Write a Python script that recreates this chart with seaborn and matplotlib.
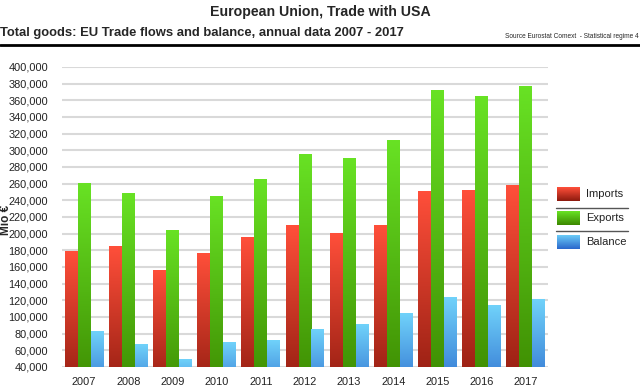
import numpy as np
import pandas as pd
import matplotlib
matplotlib.use("Agg")
import matplotlib.pyplot as plt
import seaborn as sns
from matplotlib.colors import LinearSegmentedColormap
from matplotlib.lines import Line2D
from matplotlib.ticker import FuncFormatter

years = ["2007", "2008", "2009", "2010", "2011", "2012", "2013", "2014", "2015", "2016", "2017"]
imports = [178600, 184100, 156000, 175700, 194900, 210200, 200200, 210200, 250400, 251600, 257200]
exports = [260000, 248400, 204200, 244300, 264800, 294600, 290100, 311800, 371700, 364500, 376100]
balance = [82500, 66500, 49000, 70000, 71500, 85500, 91500, 103600, 123000, 114000, 120500]
series = ["Imports", "Exports", "Balance"]
yticks = list(range(40000, 400001, 20000))
YMIN, YMAX = 40000, 400000

sns.set_theme(style="white")
plt.rcParams['font.family'] = ['Liberation Sans', 'DejaVu Sans']

df = pd.DataFrame({
    "year": years * 3,
    "value": imports + exports + balance,
    "series": [s for s in series for _ in years],
})

grad = {
    "Imports": ("#ff4f3a", "#8c1a0e"),
    "Exports": ("#68e224", "#3c8800"),
    "Balance": ("#70d2fa", "#2a68cc"),
}
palette = {k: v[0] for k, v in grad.items()}

fig = plt.figure(figsize=(6.4, 3.91), dpi=100)
ax = fig.add_axes([62/640, 1 - 367/391, (548-62)/640, (367-67)/391])

sns.barplot(data=df, x="year", y="value", hue="series", hue_order=series,
            palette=palette, width=0.88, gap=0, saturation=1, ax=ax,
            legend=False, edgecolor="none", zorder=3)

ax.set_yticks(yticks)
ax.yaxis.set_major_formatter(FuncFormatter(lambda v, p: f"{int(v):,}"))
ax.grid(axis="y", color="#d9d9d9", linewidth=1.5, zorder=0)
ax.set_axisbelow(True)
for s in ax.spines.values():
    s.set_visible(False)
ax.tick_params(axis="both", length=0, labelsize=7.9, colors="#222222")
ax.tick_params(axis="y", pad=10)
ax.tick_params(axis="x", pad=7)
ax.set_xlabel("")
ax.set_ylabel("Mio €", fontsize=8.5, fontweight="bold")
ax.yaxis.set_label_coords(-50/486, 0.49)

# gradient fills on bars (clipped to visible range)
order = []
for s in series:
    order += [s] * len(years)
for patch, s in zip(ax.patches, order):
    x0, y0 = patch.get_x(), patch.get_y()
    w, h = patch.get_width(), patch.get_height()
    top = y0 + h
    bot = max(y0, YMIN)
    cmap = LinearSegmentedColormap.from_list("g", [grad[s][1], grad[s][0]])
    frac0 = (bot - y0) / h
    g = np.linspace(frac0, 1, 256).reshape(-1, 1)
    ax.imshow(g, cmap=cmap, vmin=0, vmax=1, aspect="auto", origin="lower",
              extent=[x0, x0 + w, bot, top], zorder=4, interpolation="bilinear")
    patch.set_visible(False)
ax.set_xlim(-0.5, 10.5)
ax.set_ylim(YMIN, YMAX)

# titles
fig.text(0.5, 1 - 12/391, "European Union, Trade with USA", ha="center", va="center",
         fontsize=10.2, fontweight="bold")
fig.text(0/640, 1 - 33/391, "Total goods: EU Trade flows and balance, annual data 2007 - 2017",
         ha="left", va="center", fontsize=9.4, fontweight="bold")
fig.text(639/640, 1 - 36/391, "Source Eurostat Comext  - Statistical regime 4", ha="right",
         va="center", fontsize=4.7)
fig.add_artist(Line2D([0, 1], [1 - 44.5/391, 1 - 44.5/391], color="black", linewidth=2,
                      transform=fig.transFigure))

# legend
ly = [194, 218, 242]
for s, y in zip(series, ly):
    cmap = LinearSegmentedColormap.from_list("g", [grad[s][1], grad[s][0]])
    lax = fig.add_axes([557/640, 1 - (y + 7)/391, 23/640, 14/391])
    lax.imshow(np.linspace(0, 1, 64).reshape(-1, 1), cmap=cmap, aspect="auto", origin="lower")
    lax.axis("off")
    fig.text(586/640, 1 - y/391, s, ha="left", va="center", fontsize=8, color="#222222")
for y in [208, 231]:
    fig.add_artist(Line2D([556/640, 628/640], [1 - y/391, 1 - y/391], color="#555555",
                          linewidth=1, transform=fig.transFigure))

fig.savefig("out.png", dpi=100)
